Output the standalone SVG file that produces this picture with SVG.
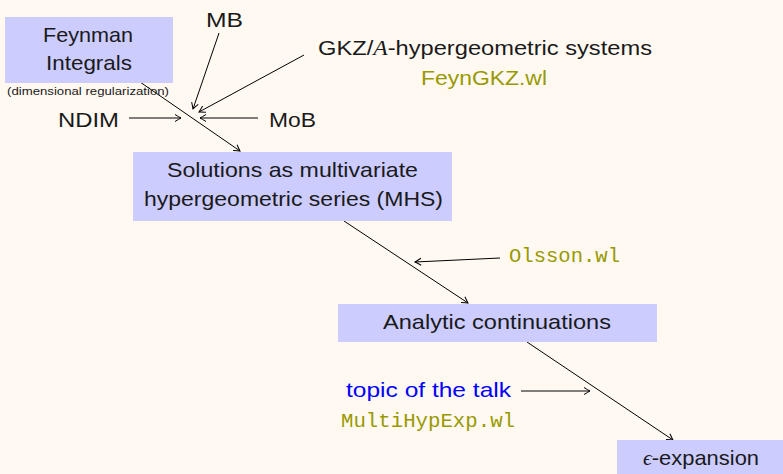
<svg xmlns="http://www.w3.org/2000/svg" width="783" height="474" viewBox="0 0 783 474">
<defs>
<style>
.box{fill:#ccccff}
.t{font-family:"Liberation Sans",Arial,sans-serif;font-size:21px;fill:#1a1a1a}
.m{font-family:"Liberation Mono","Courier New",monospace;font-size:21px;fill:#999900}
.o{font-family:"Liberation Sans",Arial,sans-serif;font-size:21px;fill:#999900}
.e{stroke:#000;stroke-width:1;fill:none;marker-end:url(#ar)}
</style>
<marker id="ar" viewBox="-8 -5 10 10" refX="0" refY="0" markerWidth="10" markerHeight="10" markerUnits="userSpaceOnUse" orient="auto">
<path d="M-6,-3.5 Q-2,-1 0,0 Q-2,1 -6,3.5" fill="none" stroke="#000" stroke-width="1"/>
</marker>
</defs>
<rect width="783" height="474" fill="#fff9f2"/>
<g id="connectors">
<line class="e" x1="140" y1="82" x2="240" y2="151"/>
<line class="e" x1="219" y1="33" x2="193" y2="109"/>
<line class="e" x1="304" y1="55" x2="199" y2="112"/>
<line class="e" x1="129" y1="118" x2="181" y2="118"/>
<line class="e" x1="258" y1="118" x2="200" y2="118"/>
<line class="e" x1="344" y1="221" x2="468" y2="303"/>
<line class="e" x1="500" y1="258" x2="415" y2="262"/>
<line class="e" x1="527" y1="342" x2="673" y2="440"/>
<line class="e" x1="521" y1="391" x2="590" y2="391"/>
</g>
<g id="feynman">
<rect class="box" x="5" y="17" width="168" height="66"/>
<text class="t" x="43" y="42" textLength="90" lengthAdjust="spacingAndGlyphs">Feynman</text>
<text class="t" x="46" y="70" textLength="86" lengthAdjust="spacingAndGlyphs">Integrals</text>
<text class="t" x="7" y="95" style="font-size:10px" textLength="162" lengthAdjust="spacingAndGlyphs">(dimensional regularization)</text>
</g>
<g id="mb"><text class="t" x="206" y="27" textLength="37" lengthAdjust="spacingAndGlyphs">MB</text></g>
<g id="gkz">
<text class="t" x="318" y="55" textLength="334" lengthAdjust="spacingAndGlyphs">GKZ/<tspan font-family="Liberation Serif" font-style="italic">A</tspan>-hypergeometric systems</text>
<text class="o" x="421" y="85" textLength="126" lengthAdjust="spacingAndGlyphs">FeynGKZ.wl</text>
</g>
<g id="ndim"><text class="t" x="58" y="127" textLength="61" lengthAdjust="spacingAndGlyphs">NDIM</text></g>
<g id="mob"><text class="t" x="269" y="127" textLength="47" lengthAdjust="spacingAndGlyphs">MoB</text></g>
<g id="solutions">
<rect class="box" x="133" y="152" width="319" height="69"/>
<text class="t" x="167" y="177" textLength="251" lengthAdjust="spacingAndGlyphs">Solutions as multivariate</text>
<text class="t" x="144" y="206" textLength="299" lengthAdjust="spacingAndGlyphs">hypergeometric series (MHS)</text>
</g>
<g id="olsson"><text class="m" x="509" y="262" textLength="111" lengthAdjust="spacingAndGlyphs">Olsson.wl</text></g>
<g id="analytic">
<rect class="box" x="338" y="304" width="319" height="38"/>
<text class="t" x="383" y="329" textLength="228" lengthAdjust="spacingAndGlyphs">Analytic continuations</text>
</g>
<g id="topic">
<text class="t" x="346" y="397" style="fill:#0000ff" textLength="165" lengthAdjust="spacingAndGlyphs">topic of the talk</text>
<text class="m" x="341" y="427" textLength="174" lengthAdjust="spacingAndGlyphs">MultiHypExp.wl</text>
</g>
<g id="eps">
<rect class="box" x="617" y="440" width="166" height="34"/>
<text class="t" x="643" y="465" textLength="116" lengthAdjust="spacingAndGlyphs"><tspan font-family="Liberation Serif" font-style="italic">ϵ</tspan>-expansion</text>
</g>
</svg>
